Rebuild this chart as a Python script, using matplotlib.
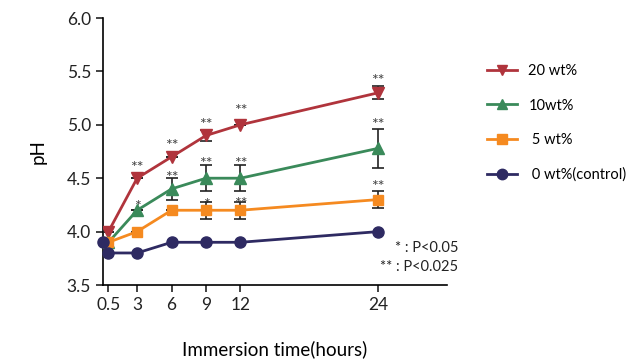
import matplotlib
matplotlib.use("Agg")
import matplotlib.pyplot as plt
from matplotlib.lines import Line2D

plt.rcParams['font.family'] = ['Lato', 'DejaVu Sans']

time_ctrl = [0, 0.5, 3, 6, 9, 12, 24]
ph_ctrl = [3.9, 3.8, 3.8, 3.9, 3.9, 3.9, 4.0]

time = [0.5, 3, 6, 9, 12, 24]
ph_20 = [4.0, 4.5, 4.7, 4.9, 5.0, 5.3]
err_20 = [0, 0, 0, 0.05, 0, 0.06]
ph_10 = [3.9, 4.2, 4.4, 4.5, 4.5, 4.78]
err_10 = [0, 0, 0.1, 0.12, 0.12, 0.18]
ph_5 = [3.9, 4.0, 4.2, 4.2, 4.2, 4.3]
err_5 = [0, 0, 0, 0.08, 0.08, 0.08]

labels = ['20 wt%', '10wt%', ' 5 wt%', ' 0 wt%(control)']
markers = ['v', '^', 's', 'o']
colors = ['#B0343C', '#3A8A5A', '#F58A20', '#2E2A62']

# significance marks: (x, y, text)
sig_20 = [(3, 4.60, '**'), (6, 4.80, '**'), (9, 5.00, '**'), (12, 5.13, '**'), (24, 5.41, '**')]
sig_10 = [(3, 4.23, '*'), (6, 4.50, '**'), (9, 4.63, '**'), (12, 4.63, '**'), (24, 5.00, '**')]
sig_5 = [(9, 4.25, '*'), (12, 4.26, '**'), (24, 4.42, '**')]

xticks = [0.5, 3, 6, 9, 12, 24]
xticklabels = ['0.5', '3', '6', '9', '12', '24']
yticks = [3.5, 4.0, 4.5, 5.0, 5.5, 6.0]

fig = plt.figure(figsize=(6.32, 3.6), dpi=100)
ax = fig.add_axes([0.1625, 0.2083, 0.545, 0.7417])

ms = 7.5
lw = 2.0
ekw = dict(ecolor='#222222', elinewidth=1.2, capsize=4, capthick=1.2)
ax.errorbar(time, ph_20, yerr=err_20, color=colors[0], marker=markers[0], ms=ms + 0.5, lw=lw, zorder=3, **ekw)
ax.errorbar(time, ph_10, yerr=err_10, color=colors[1], marker=markers[1], ms=ms + 0.5, lw=lw, zorder=4, **ekw)
ax.errorbar(time, ph_5, yerr=err_5, color=colors[2], marker=markers[2], ms=ms, lw=lw, zorder=5, **ekw)
ax.plot(time_ctrl, ph_ctrl, color=colors[3], marker=markers[3], ms=ms + 0.5, lw=lw,
        zorder=6, clip_on=False)

for marks in (sig_20, sig_10, sig_5):
    for x, y, t in marks:
        ax.text(x, y, t, ha='center', va='center', fontsize=11.5, color='#444444')

ax.text(31.0, 3.60, '* : P<0.05\n** : P<0.025', ha='right', va='bottom', fontsize=10.5,
        color='#222222', linespacing=1.45, clip_on=False)

ax.set_xlim(0, 30)
ax.set_ylim(3.5, 6.0)
ax.set_xticks(xticks)
ax.set_xticklabels(xticklabels)
ax.set_yticks(yticks)
ax.set_yticklabels([f'{v:.1f}' for v in yticks])
ax.tick_params(axis='both', labelsize=12.5, length=5, width=1.2, colors='#222222')
ax.spines['top'].set_visible(False)
ax.spines['right'].set_visible(False)
ax.spines['left'].set_linewidth(1.2)
ax.spines['bottom'].set_linewidth(1.2)
ax.set_ylabel('pH', fontsize=13.5, labelpad=14)
ax.set_xlabel('Immersion time(hours)', fontsize=13.5, labelpad=20)

handles = [Line2D([], [], color=c, marker=m, ms=ms, lw=lw) for c, m in zip(colors, markers)]
fig.legend(handles, labels, loc='upper left', bbox_to_anchor=(0.762, 0.838), frameon=False,
           fontsize=10.5, handlelength=2.0, handletextpad=0.8, labelspacing=1.4, borderaxespad=0)

fig.savefig('out.png', dpi=100)
